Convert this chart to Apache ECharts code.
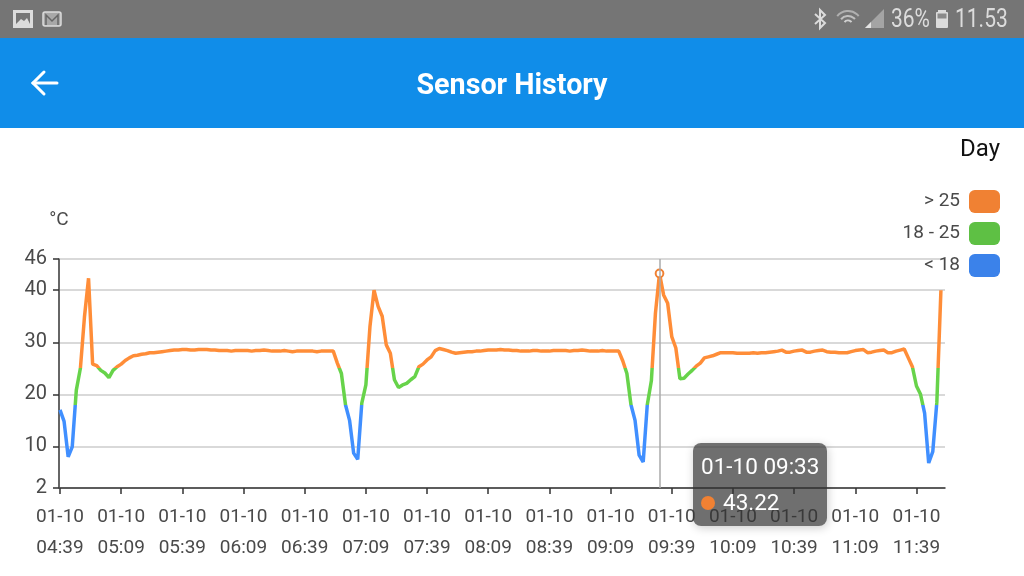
<!DOCTYPE html>
<html>
<head>
<meta charset="utf-8">
<title>Sensor History</title>
<style>
html, body { margin: 0; padding: 0; background: #fff; }
#chart { width: 1024px; height: 576px; }
</style>
<script src="https://cdn.jsdelivr.net/npm/echarts@6/dist/echarts.min.js"></script>
</head>
<body>
<div id="chart"></div>
<script>
// readings every 2 minutes, starting at 04:39 on 01-10
var startDate = '01-10';
var startMinute = 4 * 60 + 39;
var stepMinutes = 2;
var categoryCount = 218;

var temps = [
    17, 14.8, 8, 9.9, 20.8, 25, 34.9, 42.3, 25.8, 25.5, 24.6, 24.1, 23.2, 24.6, 25.3,
    25.8, 26.5, 27, 27.4, 27.5, 27.7, 27.8, 28, 28, 28.1, 28.2, 28.3, 28.4, 28.5, 28.5,
    28.6, 28.6, 28.5, 28.5, 28.6, 28.6, 28.6, 28.5, 28.5, 28.4, 28.4, 28.4, 28.3, 28.4, 28.4,
    28.4, 28.4, 28.3, 28.4, 28.4, 28.5, 28.4, 28.3, 28.3, 28.3, 28.4, 28.3, 28.2, 28.3, 28.3,
    28.3, 28.3, 28.3, 28.2, 28.3, 28.3, 28.3, 28.3, 26, 24, 18, 15, 8.7, 7.5, 18.3,
    21.8, 33, 40, 36.9, 35, 29.5, 27.9, 22.8, 21.3, 21.8, 22.1, 22.8, 23.4, 25.3, 25.8,
    26.6, 27.2, 28.4, 28.8, 28.6, 28.4, 28.1, 27.9, 28, 28.1, 28.2, 28.2, 28.3, 28.3, 28.4,
    28.5, 28.5, 28.5, 28.6, 28.5, 28.5, 28.4, 28.4, 28.3, 28.3, 28.3, 28.4, 28.4, 28.3, 28.3,
    28.3, 28.4, 28.4, 28.4, 28.4, 28.3, 28.4, 28.4, 28.5, 28.4, 28.3, 28.3, 28.3, 28.4, 28.3,
    28.3, 28.3, 28.3, 26.4, 24, 18, 15, 8.3, 7, 18, 22.6, 35.6, 43.22, 39.1, 37.5,
    31.1, 28.9, 23, 23.1, 23.9, 24.6, 25.4, 26, 27, 27.2, 27.4, 27.7, 28, 28, 28,
    28, 27.9, 27.9, 27.9, 27.9, 28, 27.9, 28, 28, 28.1, 28.2, 28.3, 28.5, 28.1, 28.1,
    28.3, 28.4, 28.5, 28.1, 28.1, 28.3, 28.4, 28.5, 28.2, 28.1, 28.1, 28, 28, 28, 28.2,
    28.4, 28.5, 28.6, 28, 28.1, 28.3, 28.4, 28.5, 28, 28, 28.3, 28.5, 28.7, 27, 25.3,
    21.6, 20, 16.4, 6.8, 9, 18.5, 40
];

var tipIndex = 147;

var pieces = [
    { gt: 25, label: '> 25', color: '#f08133' },
    { gte: 18, lte: 25, label: '18 - 25', color: '#5ec044' },
    { lt: 18, label: '< 18', color: '#3b82ea' }
];

function pad(n) {
    return (n < 10 ? '0' : '') + n;
}

var categories = [];
for (var i = 0; i < categoryCount; i++) {
    var m = startMinute + i * stepMinutes;
    categories.push(startDate + ' ' + pad(Math.floor(m / 60)) + ':' + pad(m % 60));
}

var chartDom = document.getElementById('chart');
var myChart = echarts.init(chartDom);
var statusColor = '#dcdcdc';
var labelColor = '#4a4a4a';

var option = {
    animation: false,
    backgroundColor: '#fff',
    textStyle: { fontFamily: 'Roboto' },
    grid: { left: 60, right: 79, top: 259, bottom: 88 },
    tooltip: {
        trigger: 'axis',
        alwaysShowContent: true,
        transitionDuration: 0,
        backgroundColor: 'rgba(50,50,50,0.7)',
        borderWidth: 0,
        borderRadius: 8,
        padding: [6, 8],
        position: [693, 443],
        axisPointer: {
            type: 'line',
            lineStyle: { color: '#aaa', width: 1.5, type: 'solid' }
        },
        formatter: function (params) {
            var p = params[0];
            return '<div style="font:22.5px/35.5px Roboto;color:#fff;white-space:nowrap">' + p.name + '<br>'
                + '<span style="display:inline-block;width:14px;height:14px;border-radius:7px;background:#f08133;margin-right:8px"></span>'
                + p.value + '</div>';
        }
    },
    xAxis: {
        type: 'category',
        boundaryGap: false,
        data: categories,
        axisLine: { lineStyle: { color: '#333', width: 1.5 } },
        axisTick: { interval: 14, length: 6, lineStyle: { color: '#333', width: 1.5 } },
        axisLabel: {
            interval: 14,
            margin: 14,
            fontSize: 19,
            lineHeight: 31,
            color: labelColor,
            formatter: function (v) {
                return v.replace(' ', '\n');
            }
        }
    },
    yAxis: {
        type: 'value',
        offset: 1,
        name: '°C',
        nameGap: 29,
        nameTextStyle: { fontSize: 19, color: labelColor },
        min: 2,
        max: 46,
        axisLine: { show: true, lineStyle: { color: '#333', width: 1.5 } },
        axisTick: { show: true, length: 6, lineStyle: { color: '#333', width: 1.5 } },
        axisLabel: { margin: 12, fontSize: 20, color: labelColor },
        splitLine: { lineStyle: { color: '#ccc', width: 1.5 } }
    },
    visualMap: {
        type: 'piecewise',
        right: 9,
        top: 175,
        orient: 'vertical',
        align: 'right',
        itemWidth: 31,
        itemHeight: 23,
        itemGap: 9,
        textGap: 9,
        hoverLink: false,
        textStyle: { fontSize: 19, color: labelColor },
        pieces: pieces
    },
    series: [
        {
            name: 'Temperature',
            type: 'line',
            data: temps,
            smooth: false,
            showSymbol: false,
            symbol: 'emptyCircle',
            symbolSize: 7,
            lineStyle: { width: 3.5 }
        }
    ],
    graphic: [
        // status bar
        { type: 'rect', shape: { x: 0, y: 0, width: 1024, height: 38 }, style: { fill: '#757575' } },
        { type: 'rect', shape: { x: 13, y: 10, width: 20, height: 18 }, style: { fill: statusColor } },
        { type: 'rect', shape: { x: 16, y: 13, width: 14, height: 11 }, style: { fill: '#757575' } },
        { type: 'polygon', shape: { points: [[16, 24], [21, 19], [24, 21], [27, 18], [30, 24]] }, style: { fill: statusColor } },
        { type: 'rect', shape: { x: 43, y: 12, width: 18, height: 14, r: 2 }, style: { fill: '#a8a8a8', stroke: statusColor, lineWidth: 1.5 } },
        { type: 'polyline', shape: { points: [[46, 25], [46, 15], [52, 21], [58, 15], [58, 25]] }, style: { fill: 'none', stroke: '#666', lineWidth: 1.5 } },
        { type: 'polyline', shape: { points: [[815, 14], [825, 23], [820, 28], [820, 10], [825, 15], [815, 24]] }, style: { fill: 'none', stroke: statusColor, lineWidth: 2 } },
        { type: 'arc', shape: { cx: 848, cy: 25, r: 14, startAngle: -2.45, endAngle: -0.7 }, style: { fill: 'none', stroke: '#b0b0b0', lineWidth: 2 } },
        { type: 'arc', shape: { cx: 848, cy: 25, r: 9, startAngle: -2.45, endAngle: -0.7 }, style: { fill: 'none', stroke: '#c0c0c0', lineWidth: 2 } },
        { type: 'arc', shape: { cx: 848, cy: 25, r: 4.5, startAngle: -2.45, endAngle: -0.7 }, style: { fill: 'none', stroke: '#d0d0d0', lineWidth: 2 } },
        { type: 'polygon', shape: { points: [[865, 28], [884, 28], [884, 9]] }, style: { fill: '#a4a4a4' } },
        { type: 'polygon', shape: { points: [[865, 28], [871, 28], [871, 22]] }, style: { fill: '#e4e4e4' } },
        { type: 'text', x: 891, y: 21, scaleX: 0.84, style: { text: '36%', fill: statusColor, fontSize: 25, fontFamily: 'Roboto', verticalAlign: 'middle' } },
        { type: 'rect', shape: { x: 938, y: 10, width: 8, height: 3 }, style: { fill: statusColor } },
        { type: 'rect', shape: { x: 936, y: 12, width: 12, height: 16, r: 1 }, style: { fill: statusColor } },
        { type: 'rect', shape: { x: 937.5, y: 13.5, width: 9, height: 5 }, style: { fill: '#8a8a8a' } },
        { type: 'text', x: 955, y: 21, scaleX: 0.84, style: { text: '11.53', fill: statusColor, fontSize: 25, fontFamily: 'Roboto', verticalAlign: 'middle' } },
        // app header
        { type: 'rect', shape: { x: 0, y: 38, width: 1024, height: 90 }, style: { fill: '#108de9' } },
        { type: 'polyline', shape: { points: [[44, 72], [33, 83], [44, 94]] }, style: { fill: 'none', stroke: '#fff', lineWidth: 3, lineCap: 'round' } },
        { type: 'line', shape: { x1: 33, y1: 83, x2: 57, y2: 83 }, style: { stroke: '#fff', lineWidth: 3, lineCap: 'round' } },
        { type: 'text', x: 512, y: 87, style: { text: 'Sensor History', fill: '#fff', fontSize: 28.7, fontWeight: 'bold', fontFamily: 'Roboto', align: 'center', verticalAlign: 'middle' } },
        { type: 'text', x: 1000, y: 150, style: { text: 'Day', fill: '#111', fontSize: 24, fontFamily: 'Roboto', align: 'right', verticalAlign: 'middle' } }
    ]
};

option && myChart.setOption(option);

myChart.dispatchAction({ type: 'showTip', seriesIndex: 0, dataIndex: tipIndex });
</script>
</body>
</html>
